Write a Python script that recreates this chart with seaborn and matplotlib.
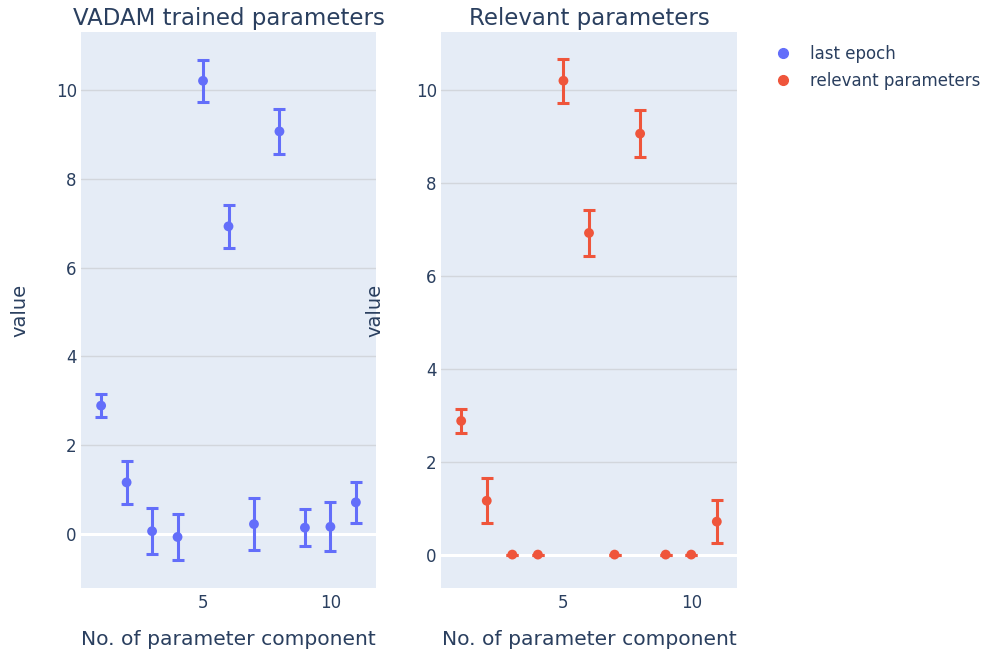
import numpy as np
import pandas as pd
import matplotlib
matplotlib.use("Agg")
import matplotlib.pyplot as plt
import seaborn as sns
from matplotlib.lines import Line2D

components = [1, 2, 3, 4, 5, 6, 7, 8, 9, 10, 11]
last_epoch = [2.89, 1.16, 0.06, -0.07, 10.21, 6.93, 0.22, 9.07, 0.14, 0.16, 0.71]
last_epoch_err = [0.26, 0.49, 0.52, 0.52, 0.47, 0.49, 0.59, 0.51, 0.41, 0.55, 0.47]
relevant = [2.88, 1.16, 0.0, 0.0, 10.21, 6.93, 0.0, 9.07, 0.0, 0.0, 0.71]
relevant_err = [0.26, 0.49, 0.0, 0.0, 0.47, 0.49, 0.0, 0.51, 0.0, 0.0, 0.47]

titles = ["VADAM trained parameters", "Relevant parameters"]
legend_labels = ["last epoch", "relevant parameters"]
xlabel = "No. of parameter component"
ylabel = "value"

BLUE = "#636EFA"
RED = "#EF553B"
BG = "#E5ECF6"
TXT = "#2A3F5F"
GRID = "#D2D6DC"

sns.set_theme(style="darkgrid")
plt.rcParams["font.family"] = ["DejaVu Sans"]

W, H = 988, 657
fig = plt.figure(figsize=(W / 100, H / 100), dpi=100)

def add_axes(l, r, t, b):
    return fig.add_axes([l / W, 1 - b / H, (r - l) / W, (b - t) / H])

ax1 = add_axes(81, 376, 32, 588)
ax2 = add_axes(441, 737, 32, 588)

df1 = pd.DataFrame({"x": components, "y": last_epoch, "e": last_epoch_err})
df2 = pd.DataFrame({"x": components, "y": relevant, "e": relevant_err})

for ax, df, col, title, ylim in [
    (ax1, df1, BLUE, titles[0], (-1.22, 11.31)),
    (ax2, df2, RED, titles[1], (-0.72, 11.26)),
]:
    ax.set_facecolor(BG)
    ax.errorbar(df["x"], df["y"], yerr=df["e"], fmt="none", ecolor=col,
                elinewidth=2.2, capsize=4.6, capthick=2.2, zorder=3)
    sns.scatterplot(data=df, x="x", y="y", ax=ax, color=col, s=50,
                    edgecolor="none", zorder=4, legend=False)
    ax.set_xlim(0.21, 11.79)
    ax.set_ylim(*ylim)
    ax.set_xticks([5, 10])
    ax.set_yticks([0, 2, 4, 6, 8, 10])
    ax.grid(False)
    ax.grid(axis="y", color=GRID, linewidth=1.0, zorder=0)
    ax.axhline(0, color="white", linewidth=2.2, zorder=1)
    for s in ax.spines.values():
        s.set_visible(False)
    ax.tick_params(axis="both", length=0, labelsize=12, colors=TXT)
    ax.tick_params(axis="x", pad=4)
    ax.tick_params(axis="y", pad=3)
    ax.set_title(title, fontsize=16.5, color=TXT, pad=5)
    ax.set_xlabel(xlabel, fontsize=14.6, color=TXT, labelpad=13)
    ax.set_ylabel(ylabel, fontsize=14, color=TXT)

ax1.yaxis.set_label_coords(-0.175, 0.5)
ax2.yaxis.set_label_coords(-0.19, 0.5)

handles = [
    Line2D([], [], marker="o", linestyle="none", color=BLUE, markersize=7),
    Line2D([], [], marker="o", linestyle="none", color=RED, markersize=7),
]
fig.legend(handles, legend_labels, loc="upper left", bbox_to_anchor=(758 / W, 1 - 30 / H),
           frameon=False, fontsize=12, labelcolor=TXT, handletextpad=1.0,
           labelspacing=0.55, handlelength=1.2)

fig.savefig("out.png", dpi=100, facecolor="white")
